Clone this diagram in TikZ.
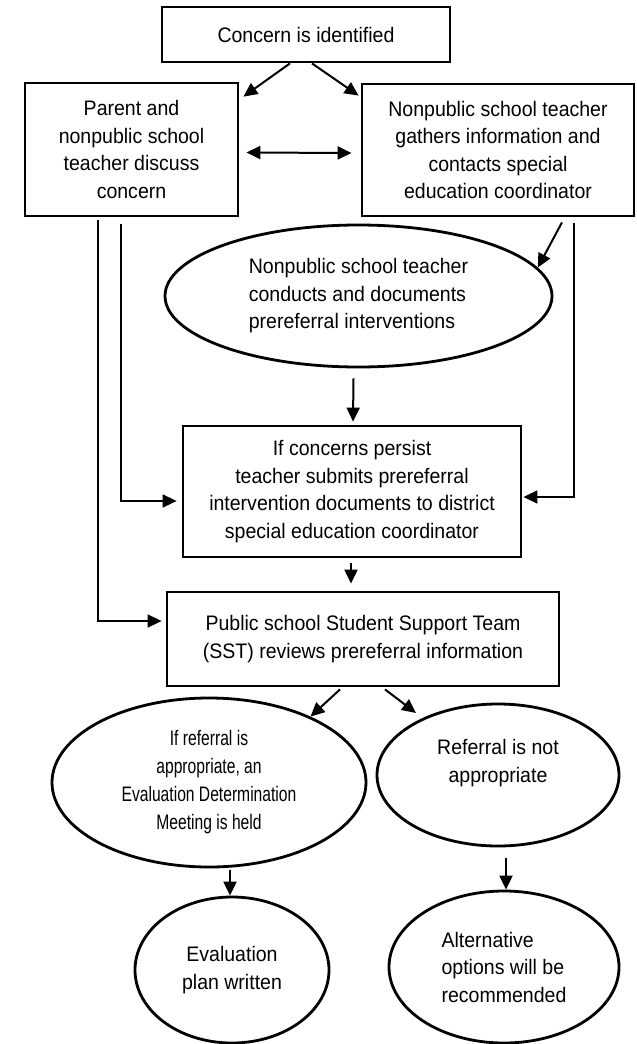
\documentclass[tikz,border=0pt]{standalone}
\usepackage{fontspec}
\setmainfont{Liberation Sans}[FakeStretch=0.93]
\newfontfamily\narrowfont{Liberation Sans}[FakeStretch=0.745]
\usetikzlibrary{arrows.meta}
\usetikzlibrary{positioning}
\usetikzlibrary{shapes.geometric}
\tikzset {
  flow path/.style = {
    draw = black,
    line width = 2pt
  },
  % path style with an arrow at its end
  arr/.style = {
    flow path,
    -{Triangle[length=14pt,width=13pt]}
  },
  % path style with arrows at both ends
  darr/.style = {
    flow path,
    {Triangle[length=14pt,width=13pt]}-{Triangle[length=14pt,width=13pt]}
  },
  % long lines down the sides
  sidearr/.style = {
    arr,
    line width = 1.6pt
  }
}
\tikzset {
  flow node/.style = {
    draw = black,
    line width = 2.8pt,
    inner sep = 0,
    align = center,
    font = \fontsize{21pt}{27.5pt}\selectfont
  },
  % step of the procedure
  stage/.style = {
    flow node,
    rectangle
  },
  % activity or outcome
  oval/.style = {
    flow node,
    ellipse
  }
}

\begin{document}
\begin{tikzpicture}[x=1pt, y=-1pt]
    \useasboundingbox (0,0) rectangle (637,1044);

    \node[stage, minimum width=288pt, minimum height=55pt] (concern) at (306,34.5)
      {Concern is identified};
    \node[stage, minimum width=213pt, minimum height=133pt] (parent) at (131.5,149.5)
      {Parent and\\nonpublic school\\teacher discuss\\concern};
    \node[stage, minimum width=272pt, minimum height=132pt] (gather) at (498,150)
      {Nonpublic school teacher\\gathers information and\\contacts special\\education coordinator};
    \node[oval, minimum width=387pt, minimum height=142pt, align=left] (interv) at (358.5,296)
      {Nonpublic school teacher\\conducts and documents\\prereferral interventions};
    \node[stage, minimum width=338pt, minimum height=131pt] (submit) at (352,491.5)
      {If concerns persist\\teacher submits prereferral\\intervention documents to district\\special education coordinator};
    \node[stage, minimum width=392pt, minimum height=94pt] (sst) at (363,639)
      {Public school Student Support Team\\(SST) reviews prereferral information};
    \node[oval, minimum width=314pt, minimum height=169pt,
      font=\narrowfont\fontsize{21pt}{28pt}\selectfont] (approp) at (209,782.5)
      {If referral is\\appropriate, an\\Evaluation Determination\\Meeting is held};
    \node[oval, minimum width=242pt, minimum height=142pt] (notapp) at (498,775)
      {Referral is not\\appropriate\\[-8pt]\strut};
    \node[oval, minimum width=194pt, minimum height=146pt] (plan) at (232,970)
      {Evaluation\\plan written};
    \node[oval, minimum width=230pt, minimum height=152pt, align=left] (altern) at (504,967)
      {Alternative\\options will be\\recommended};

    \draw[arr] ([xshift=-16pt]concern.south)
    -- ([shift={(4pt,-15pt)}]parent.north east);
    \draw[arr] ([xshift=6pt]concern.south)
    -- ([shift={(-2pt,-13pt)}]gather.north west);
    \draw[darr] ([shift={(7pt,-3pt)}]parent.east)
    -- ([shift={(-9pt,-3pt)}]gather.west);

    \draw[arr] ([shift={(64pt,-5pt)}]gather.south)
    -- (interv.9);
    \draw[arr] ([shift={(-5pt,-10pt)}]interv.south)
    -- ([shift={(1pt,3pt)}]submit.north);

    \draw[sidearr] ([shift={(-10.5pt,-7pt)}]parent.south)
    |- ([shift={(-5pt,-9.5pt)}]submit.west);
    \draw[sidearr] ([shift={(-33.5pt,-3pt)}]parent.south)
    |- ([shift={(-4pt,18pt)}]sst.west);
    \draw[sidearr] ([shift={(76pt,-6pt)}]gather.south)
    |- ([shift={(1pt,-5.5pt)}]submit.east);

    \draw[arr] ([shift={(-1pt,-5pt)}]submit.south)
    -- ([shift={(-12pt,7pt)}]sst.north);
    \draw[arr] ([shift={(-23pt,-2pt)}]sst.south)
    -- (approp.33);
    \draw[arr] ([shift={(22pt,-2pt)}]sst.south)
    -- ([shift={(-82pt,62pt)}]notapp.center);

    \draw[arr] ([shift={(21pt,-2pt)}]approp.south)
    -- ([xshift=-2pt]plan.north);
    \draw[arr] ([shift={(8pt,-11pt)}]notapp.south)
    -- ([xshift=2pt]altern.north);
  \end{tikzpicture}
\end{document}
